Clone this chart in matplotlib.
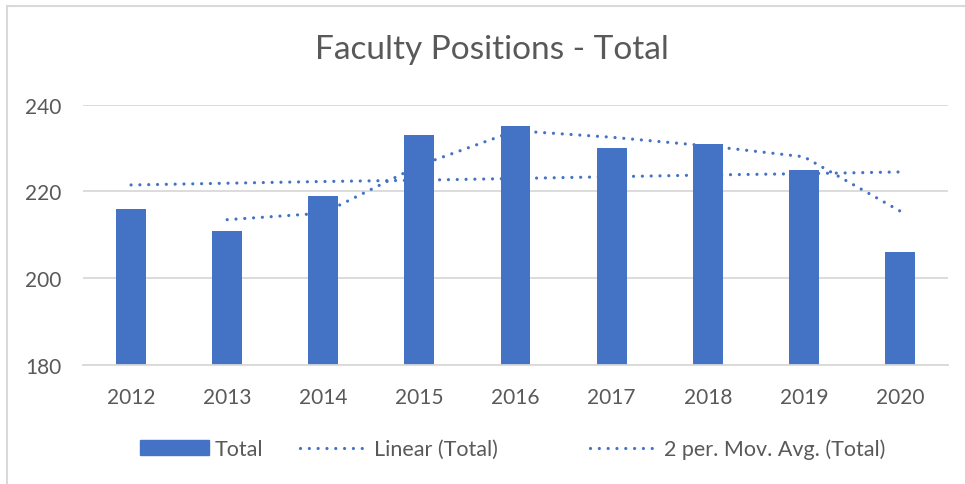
import matplotlib.pyplot as plt
from matplotlib.lines import Line2D

plt.rcParams['font.family'] = ['Lato', 'DejaVu Sans']

years = ['2012', '2013', '2014', '2015', '2016', '2017', '2018', '2019', '2020']
total = [216, 211, 219, 233, 235, 230, 231, 225, 206]
# trendlines
linear = [221.5, 221.9, 222.3, 222.6, 223.0, 223.4, 223.8, 224.1, 224.5]
mov_avg = [213.5, 215.0, 226.0, 234.0, 232.5, 230.5, 228.0, 215.5]

blue = '#4472C4'
grey = '#595959'
dots = (0, (0.01, 2.75))
lw = 2.3

fig = plt.figure(figsize=(9.65, 4.85), dpi=100)
ax = fig.add_axes([83 / 965, 1 - 366 / 485, 865 / 965, (366 - 105.7) / 485])

x = list(range(len(years)))
ax.bar(x, total, width=0.31, color=blue, zorder=2)
ax.plot(x, linear, color=blue, linestyle=dots, linewidth=lw,
        dash_capstyle='round', zorder=3)
ax.plot(x[1:], mov_avg, color=blue, linestyle=dots, linewidth=lw,
        dash_capstyle='round', zorder=3)

ax.set_ylim(180, 240)
ax.set_xlim(-0.5, len(years) - 0.5)
ax.set_yticks([180, 200, 220, 240])
ax.set_xticks(x)
ax.set_xticklabels(years)
ax.grid(axis='y', color='#D9D9D9', linewidth=1.3, zorder=0)
for s in ['top', 'right', 'left']:
    ax.spines[s].set_visible(False)
ax.spines['bottom'].set_color('#D9D9D9')
ax.spines['bottom'].set_linewidth(1.3)
ax.tick_params(length=0, labelsize=15, labelcolor=grey)
ax.tick_params(axis='y', pad=15.5)
ax.tick_params(axis='x', pad=16)

fig.text(492 / 965, 1 - 50 / 485, 'Faculty Positions - Total', ha='center', va='center',
         fontsize=24, color=grey)

# legend entries placed one by one, like the spread-out Excel legend
entries = [
    (plt.Rectangle((0, 0), 1, 1, color=blue), 'Total', 140),
    (Line2D([], [], color=blue, linestyle=dots, linewidth=lw, dash_capstyle='round'),
     'Linear (Total)', 300),
    (Line2D([], [], color=blue, linestyle=dots, linewidth=lw, dash_capstyle='round'),
     '2 per. Mov. Avg. (Total)', 590),
]
for h, label, px in entries:
    leg = fig.legend([h], [label], loc='center left',
                     bbox_to_anchor=(px / 965, 1 - 450 / 485),
                     frameon=False, fontsize=15.5, handlelength=3.2, handleheight=0.68,
                     handletextpad=0.25, borderpad=0, borderaxespad=0)
    for t in leg.get_texts():
        t.set_color(grey)

# chart frame (left and top edges visible)
fig.add_artist(Line2D([7 / 965, 7 / 965], [0, 1 - 7 / 485], color='#D9D9D9', linewidth=1.5))
fig.add_artist(Line2D([7 / 965, 1], [1 - 7 / 485, 1 - 7 / 485], color='#D9D9D9', linewidth=1.5))

fig.savefig('out.png', dpi=100)
